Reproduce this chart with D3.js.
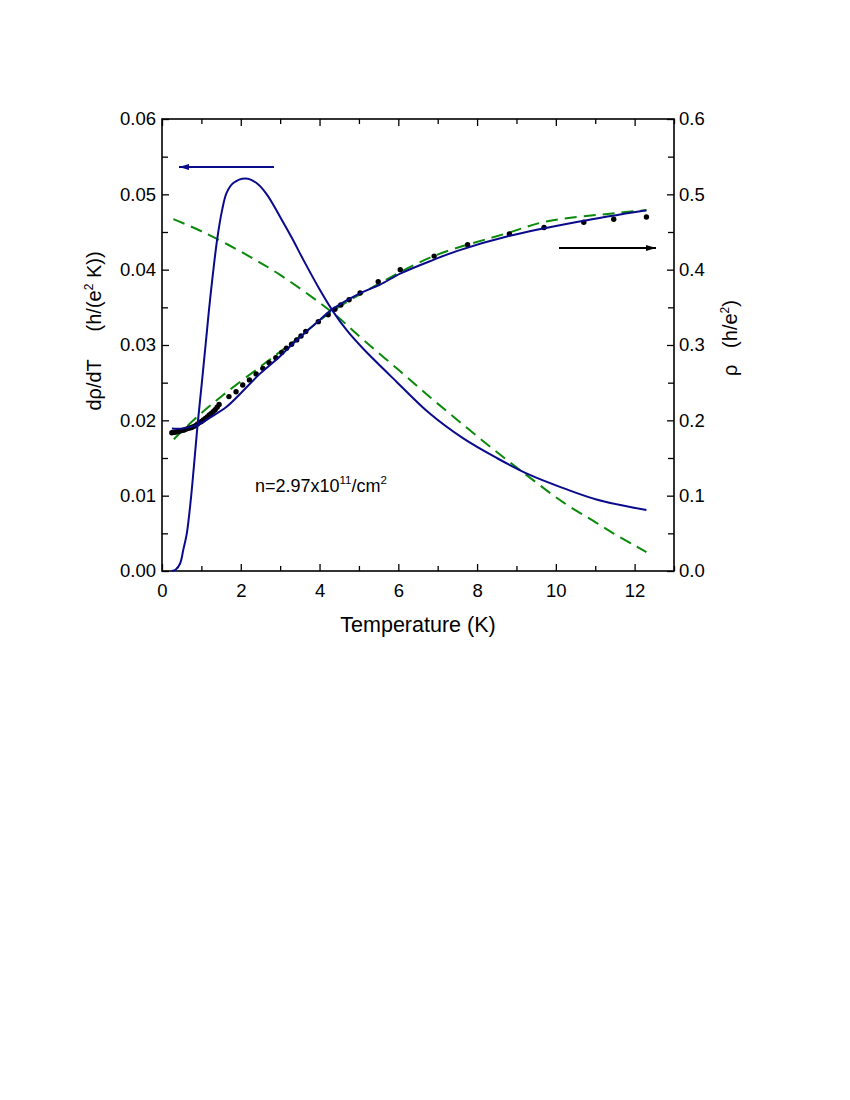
<!DOCTYPE html>
<html>
<head>
<meta charset="utf-8">
<script src="https://cdn.jsdelivr.net/npm/d3@7"></script>
<style>
  html, body { margin: 0; padding: 0; background: #fff; }
  svg { display: block; }
  text { font-family: "Liberation Sans", Arial, sans-serif; fill: #000; }
</style>
</head>
<body>
<svg id="chart" width="850" height="1100"></svg>
<script>
// ---------- data ----------
// dρ/dT fit (solid navy, left axis)
const drhoFitT   = [0.25,0.35,0.46,0.54,0.63,0.73,0.81,0.90,1.01,1.11,1.22,1.40,1.53,1.64,1.81,2.12,2.40,2.66,3.00,3.30,3.59,4.00,4.35,4.70,5.11,5.96,6.80,7.65,8.50,9.34,10.19,11.03,12.30];
const drhoFitVal = [0.0000,0.0002,0.0010,0.0028,0.0050,0.0094,0.0139,0.0192,0.0249,0.0302,0.0360,0.0440,0.0480,0.0502,0.0515,0.0521,0.0515,0.0500,0.0470,0.0442,0.0413,0.0374,0.0344,0.0319,0.0295,0.0251,0.0209,0.0176,0.0150,0.01275,0.0110,0.0095,0.0081];
// dρ/dT alternative (dashed green, left axis)
const drhoAltT   = [0.29,1.00,2.00,3.00,4.35,5.11,5.96,6.80,7.65,8.50,9.34,10.19,11.03,11.46,11.96,12.30];
const drhoAltVal = [0.0467,0.0451,0.0424,0.0393,0.0342,0.0307,0.0269,0.0231,0.0194,0.0158,0.0124,0.0091,0.0064,0.0050,0.0035,0.0025];
// ρ fit (solid navy, right axis)
const rhoFitT   = [0.25,0.50,0.90,1.20,1.64,2.00,2.49,3.00,3.33,4.00,4.31,5.00,5.53,6.06,6.89,7.50,8.83,10.60,12.30];
const rhoFitVal = [0.189,0.189,0.194,0.203,0.218,0.236,0.262,0.285,0.302,0.333,0.347,0.368,0.380,0.395,0.413,0.425,0.445,0.464,0.479];
// ρ alternative (dashed green, right axis)
const rhoAltT   = [0.30,0.90,1.56,2.49,3.30,4.30,5.50,6.90,8.80,9.76,11.50,12.30];
const rhoAltVal = [0.175,0.205,0.234,0.271,0.303,0.344,0.381,0.418,0.449,0.464,0.475,0.479];
// ρ measured (black dots, right axis)
const rhoDataT = [0.25,0.30,0.35,0.40,0.45,0.50,0.55,0.60,0.65,0.70,0.75,0.80,0.85,0.90,0.95,1.00,1.05,1.10,1.15,1.20,1.25,1.30,1.35,1.40,1.45,
                  1.70,1.88,2.05,2.22,2.39,2.56,2.72,2.89,3.04,3.16,3.29,3.42,3.53,3.65,3.97,4.22,4.39,4.54,4.75,5.03,5.49,6.05,6.91,7.76,8.82,9.70,10.71,11.47,12.30];
const rhoDataVal = [0.1835,0.184,0.1845,0.185,0.186,0.1865,0.187,0.188,0.189,0.1897,0.1905,0.1917,0.193,0.195,0.197,0.1985,0.2005,0.2025,0.2045,0.207,0.209,0.2116,0.214,0.2175,0.221,
                  0.2315,0.238,0.247,0.2537,0.2616,0.269,0.2766,0.283,0.290,0.2957,0.301,0.3068,0.312,0.318,0.331,0.340,0.3475,0.353,0.360,0.369,0.384,0.400,0.418,0.433,0.4475,0.456,0.463,0.467,0.470];

const xMajorTicks = [0,2,4,6,8,10,12];
const xMinorTicks = [1,3,5,7,9,11,13];
const yLeftTicks  = [0,0.01,0.02,0.03,0.04,0.05,0.06];
const yRightTicks = [0,0.1,0.2,0.3,0.4,0.5,0.6];
const yMinorLeft  = [0.005,0.015,0.025,0.035,0.045,0.055];
const yMinorRight = [0.05,0.15,0.25,0.35,0.45,0.55];

// ---------- layout ----------
const L = 162, R = 674, T = 119, B = 571;
const navy = "#0a0a8c", green = "#0a8a0a";
const svg = d3.select("#chart");

const x  = d3.scaleLinear().domain([0,13]).range([L,R]);
const yL = d3.scaleLinear().domain([0,0.06]).range([B,T]);
const yR = d3.scaleLinear().domain([0,0.6]).range([B,T]);

const fs = 18.5;
function styleAxis(g){ g.select(".domain").remove(); g.selectAll("line").attr("stroke","#000").attr("stroke-width",1.3); g.selectAll("text").style("font-size",fs+"px").style("font-family","'Liberation Sans', Arial, sans-serif"); }

// bottom
svg.append("g").attr("transform",`translate(0,${B})`)
  .call(d3.axisBottom(x).tickValues(xMajorTicks).tickSize(-7).tickPadding(13).tickFormat(d3.format("d"))).call(styleAxis);
svg.append("g").attr("transform",`translate(0,${B})`)
  .call(d3.axisBottom(x).tickValues(xMinorTicks).tickSize(-5).tickFormat("")).call(styleAxis);
// top
svg.append("g").attr("transform",`translate(0,${T})`)
  .call(d3.axisTop(x).tickValues(xMajorTicks).tickSize(-7).tickFormat("")).call(styleAxis);
svg.append("g").attr("transform",`translate(0,${T})`)
  .call(d3.axisTop(x).tickValues(xMinorTicks).tickSize(-5).tickFormat("")).call(styleAxis);
// left
svg.append("g").attr("transform",`translate(${L},0)`)
  .call(d3.axisLeft(yL).tickValues(yLeftTicks).tickSize(-7).tickPadding(6).tickFormat(d3.format(".2f"))).call(styleAxis);
svg.append("g").attr("transform",`translate(${L},0)`)
  .call(d3.axisLeft(yL).tickValues(yMinorLeft).tickSize(-6).tickFormat("")).call(styleAxis);
// right
svg.append("g").attr("transform",`translate(${R},0)`)
  .call(d3.axisRight(yR).tickValues(yRightTicks).tickSize(-7).tickPadding(5).tickFormat(d3.format(".1f"))).call(styleAxis);
svg.append("g").attr("transform",`translate(${R},0)`)
  .call(d3.axisRight(yR).tickValues(yMinorRight).tickSize(-6).tickFormat("")).call(styleAxis);

// frame
svg.append("rect").attr("x",L).attr("y",T).attr("width",R-L).attr("height",B-T)
  .attr("fill","none").attr("stroke","#000").attr("stroke-width",1.6);

// ---------- curves ----------
const lineL = d3.line().x(d=>x(d[0])).y(d=>yL(d[1])).curve(d3.curveCatmullRom.alpha(0.5));
const lineR = d3.line().x(d=>x(d[0])).y(d=>yR(d[1])).curve(d3.curveCatmullRom.alpha(0.5));
const zip = (a,b)=>a.map((v,i)=>[v,b[i]]);

svg.append("path").datum(zip(drhoAltT,drhoAltVal)).attr("d",lineL)
  .attr("fill","none").attr("stroke",green).attr("stroke-width",2).attr("stroke-dasharray","12,7");
svg.append("path").datum(zip(rhoAltT,rhoAltVal)).attr("d",lineR)
  .attr("fill","none").attr("stroke",green).attr("stroke-width",2).attr("stroke-dasharray","12,7");

svg.selectAll("circle.dot").data(zip(rhoDataT,rhoDataVal)).enter().append("circle")
  .attr("class","dot").attr("cx",d=>x(d[0])).attr("cy",d=>yR(d[1])).attr("r",2.7).attr("fill","#000");

svg.append("path").datum(zip(drhoFitT,drhoFitVal)).attr("d",lineL)
  .attr("fill","none").attr("stroke",navy).attr("stroke-width",2);
svg.append("path").datum(zip(rhoFitT,rhoFitVal)).attr("d",lineR)
  .attr("fill","none").attr("stroke",navy).attr("stroke-width",2);

// ---------- arrows ----------
const defs = svg.append("defs");
function marker(id,color){
  defs.append("marker").attr("id",id).attr("viewBox","0 0 10 6").attr("refX",10).attr("refY",3)
    .attr("markerWidth",11).attr("markerHeight",6).attr("markerUnits","userSpaceOnUse").attr("orient","auto")
    .append("path").attr("d","M0,0 L10,3 L0,6 Z").attr("fill",color);
}
marker("arrNavy",navy); marker("arrBlack","#000");
svg.append("line").attr("x1",274).attr("y1",167).attr("x2",179).attr("y2",167)
  .attr("stroke",navy).attr("stroke-width",2).attr("marker-end","url(#arrNavy)");
svg.append("line").attr("x1",559).attr("y1",248).attr("x2",656).attr("y2",248)
  .attr("stroke","#000").attr("stroke-width",2).attr("marker-end","url(#arrBlack)");

// ---------- texts ----------
svg.append("text").attr("x",(L+R)/2).attr("y",632).attr("text-anchor","middle")
  .style("font-size","21.5px").text("Temperature (K)");

const lt = svg.append("text").attr("transform","translate(101,331) rotate(-90)").attr("text-anchor","middle")
  .style("font-size","20px");
lt.append("tspan").text("d\u03C1/dT\u00A0\u00A0\u00A0\u00A0\u00A0(h/(e");
lt.append("tspan").attr("dy",-8).style("font-size","12px").text("2");
lt.append("tspan").attr("dy",8).text(" K))");

const rt = svg.append("text").attr("transform","translate(737,338) rotate(-90)").attr("text-anchor","middle")
  .style("font-size","20px");
rt.append("tspan").text("\u03C1\u00A0\u00A0\u00A0(h/e");
rt.append("tspan").attr("dy",-8).style("font-size","12px").text("2");
rt.append("tspan").attr("dy",8).text(")");

const an = svg.append("text").attr("x",255).attr("y",492).style("font-size","18px");
an.append("tspan").text("n=2.97x10");
an.append("tspan").attr("dy",-8).style("font-size","11.5px").text("11");
an.append("tspan").attr("dy",8).text("/cm");
an.append("tspan").attr("dy",-8).style("font-size","11.5px").text("2");
</script>
</body>
</html>
